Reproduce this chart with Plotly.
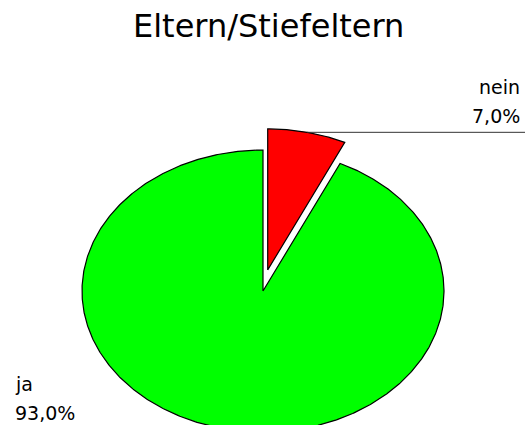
import math
import plotly.graph_objects as go

# Survey answers, listed clockwise from 12 o'clock
categories = ["nein", "ja"]
shares = [7.0, 93.0]
slice_colors = ["#FF0000", "#00FF00"]
exploded = [True, False]
title_text = "Eltern/Stiefeltern"

W, H = 525, 425
CX, CY = 263, 291          # ellipse centre (px)
RX, RY = 181, 141          # ellipse half axes (px)
EXPLODE = 21.6             # radial pull-out of the exploded slice (px)
FONT = "DejaVu Sans, Liberation Sans, Arial, sans-serif"


def point(theta_deg, dx=0.0, dy=0.0):
    t = math.radians(theta_deg)
    return CX + dx + RX * math.sin(t), CY + dy - RY * math.cos(t)


fig = go.Figure()
annotations = []
total = sum(shares)
start = 0.0
for cat, val, col, ex in zip(categories, shares, slice_colors, exploded):
    sweep = 360.0 * val / total
    end = start + sweep
    mid = start + sweep / 2
    dx = dy = 0.0
    if ex:
        m = math.radians(mid)
        dx, dy = EXPLODE * math.sin(m), -EXPLODE * math.cos(m)
    n = max(8, int(sweep * 2))
    xs, ys = [CX + dx], [CY + dy]
    for i in range(n + 1):
        px, py = point(start + sweep * i / n, dx, dy)
        xs.append(px)
        ys.append(py)
    xs.append(CX + dx)
    ys.append(CY + dy)
    fig.add_trace(go.Scatter(
        x=xs, y=ys, mode="lines", fill="toself", fillcolor=col,
        line=dict(color="#000000", width=1.2), hoverinfo="skip",
        showlegend=False,
    ))

    # leader line and the two-row label above it
    lx, ly = point(mid, dx, dy)
    right = lx >= CX
    edge = W if right else 0
    fig.add_trace(go.Scatter(
        x=[lx, edge], y=[ly, ly], mode="lines",
        line=dict(color="#333333", width=1), hoverinfo="skip",
        showlegend=False,
    ))
    pct = f"{val / total * 100:.1f}".replace(".", ",") + "%"
    tx = W - 3 if right else 13
    anchor = "right" if right else "left"
    for txt, off in ((pct, 8), (cat, 37)):
        annotations.append(dict(
            x=tx, y=ly - off, xref="x", yref="y", text=txt,
            showarrow=False, xanchor=anchor, yanchor="bottom",
            yshift=-5, font=dict(family=FONT, size=19, color="#000000"),
        ))
    start = end

annotations.append(dict(
    x=268, y=39, xref="x", yref="y", text=title_text, showarrow=False,
    xanchor="center", yanchor="bottom", yshift=-8,
    font=dict(family=FONT, size=32, color="#000000"),
))

fig.update_layout(
    width=W, height=H, margin=dict(l=0, r=0, t=0, b=0),
    paper_bgcolor="#FFFFFF", plot_bgcolor="#FFFFFF",
    xaxis=dict(range=[0, W], visible=False, fixedrange=True),
    yaxis=dict(range=[H, 0], visible=False, fixedrange=True),
    annotations=annotations, showlegend=False,
)

fig.write_html("out.html")
